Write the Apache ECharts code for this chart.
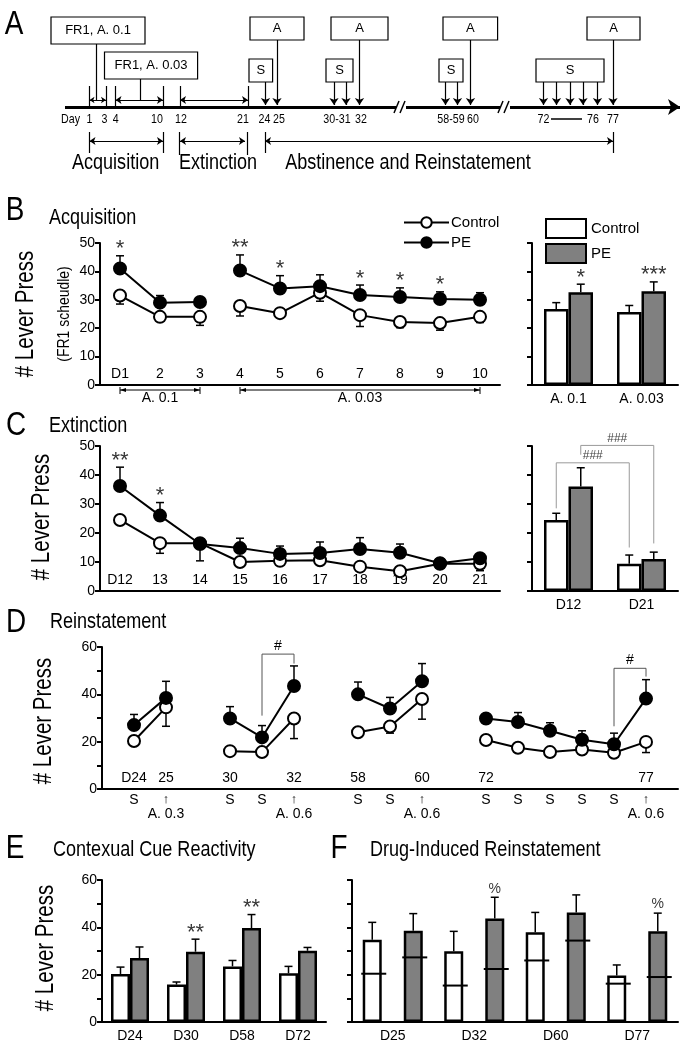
<!DOCTYPE html>
<html>
<head>
<meta charset="utf-8">
<title>Lever press</title>
<script src="https://cdn.jsdelivr.net/npm/echarts@6.0.0/dist/echarts.min.js"></script>
<style>
html, body { margin:0; padding:0; background:#fff; }
#main { width:688px; height:1050px; }
</style>
</head>
<body>
<div id="main"></div>
<script>
// ---------- data ----------
// B  acquisition (FR1), line part + dose means
var daysB = ['D1','2','3','4','5','6','7','8','9','10'];
var ctrlB = [31.5, 24, 24, 27.8, 25.3, 32.5, 24.6, 22.2, 21.8, 24];
var ctrlErrB = [-3, -1.5, -3, -3.5, -1.5, -3, -4, -2, -2.5, -2];
var peB = [41, 29, 29.2, 40.3, 34, 34.8, 31.7, 31, 30.3, 30];
var peErrB = [4.5, 2.5, 0.5, 5.5, 4.5, 4, 3.5, 3.2, 2.5, 2.5];
var sigB = ['*', '', '', '**', '*', '', '*', '*', '*', ''];
var blocksB = [[0, 2, 'A. 0.1'], [3, 9, 'A. 0.03']];
var doseB = ['A. 0.1', 'A. 0.03'];
var ctrlBarB = [26.8, 25.7];
var ctrlBarErrB = [2.2, 2.3];
var peBarB = [32.7, 33];
var peBarErrB = [2.8, 3.3];
var sigBarB = ['*', '***'];

// C  extinction
var daysC = ['D12','13','14','15','16','17','18','19','20','21'];
var ctrlC = [24.5, 16.5, 16.5, 10, 10.4, 10.6, 8.4, 6.8, 9.4, 9.4];
var ctrlErrC = [-1.5, -3.5, -1, -0.8, -0.8, -0.8, -1.2, -0.8, -0.8, -2.4];
var peC = [36.2, 26, 16.2, 14.8, 12.8, 13.1, 14.5, 13.2, 9.6, 11.3];
var peErrC = [6.5, 4.5, -5.8, 3.4, 2.7, 3.8, 3.9, 3, 0.8, 1];
var sigC = ['**', '*', '', '', '', '', '', '', '', ''];
var catBarC = ['D12', 'D21'];
var ctrlBarC = [24.5, 9.4];
var ctrlBarErrC = [2.3, 3];
var peBarC = [36, 11];
var peBarErrC = [6.5, 2.4];
// [from cat, side, to cat, side, top, from bottom, to bottom, label]  side -1 control, 1 PE
var bracketsC = [[0, -1, 1, -1, 44.2, 28.5, 15, '###'], [0, 1, 1, 1, 50.2, 47, 16.4, '###']];

// D  reinstatement, '' / '-' = gap between test blocks
var dayLabD = ['D24','25','','30','','32','','58','','60','','72','','','','','77'];
var cueD = ['S','A. 0.3','','S','S','A. 0.6','','S','S','A. 0.6','','S','S','S','S','S','A. 0.6'];
var ctrlD = [20.3, 34.5, '-', 16, 15.6, 29.8, '-', 24, 26.4, 38, '-', 20.7, 17.4, 15.6, 16.7, 15.3, 19.9];
var ctrlErrD = [-1.5, -8, 0, -0.8, -0.8, -8.5, 0, -0.8, -2.8, -8.5, 0, -1, -0.8, -0.8, -0.8, -0.8, -4.5];
var peD = [27, 38.5, '-', 29.8, 21.8, 43.5, '-', 40, 34, 45.5, '-', 29.8, 28.3, 24.6, 20.8, 18.9, 38.2];
var peErrD = [4.5, 7, 0, 5, 5, 8.5, 0, 5.2, 4.7, 7.5, 0, 0.8, 4, 3.4, 3.8, 4.7, 8];
var bracketsD = [[4, 0, 5, 0, 57, 31, 53, '#'], [15, 0, 16, 0, 51, 26.5, 47.5, '#']];

// E  contextual cue reactivity
var catE = ['D24', 'D30', 'D58', 'D72'];
var ctrlE = [20.3, 15.8, 23.5, 20.6];
var ctrlErrE = [2.9, 1.1, 2.5, 2.9];
var peE = [27, 29.7, 39.7, 30.1];
var peErrE = [4.7, 5.3, 5.7, 1.4];
var sigE = ['', '**', '**', ''];

// F  drug-induced reinstatement (horizontal line = preceding S session)
var catF = ['D25', 'D32', 'D60', 'D77'];
var ctrlF = [34.8, 29.9, 37.9, 19.7];
var ctrlErrF = [7.3, 8.4, 8.4, 4.4];
var peF = [38.6, 43.7, 46.3, 38.3];
var peErrF = [7.2, 9, 7.4, 7.7];
var ctrlBaseF = [20.4, 15.4, 26, 16.2];
var peBaseF = [27.3, 22.4, 34.4, 19];
var sigF = ['', '%', '', '%'];

// ---------- helpers ----------
var FONT = "'Liberation Sans',Arial,sans-serif";
var NARROW = 0.82;   // the figure uses a condensed face; squeeze free text to match
var AX = {color: '#000', width: 2};
var GRAY = '#808080';

function yAx(grid, max, labels, step) {
  return {
    type: 'value', gridIndex: grid, min: 0, max: max, interval: 10,
    axisLine: {show: true, onZero: false, lineStyle: AX},
    axisTick: {show: true, length: 5, lineStyle: AX},
    splitLine: {show: false},
    axisLabel: {show: labels, fontSize: 14, color: '#000', margin: 5,
      formatter: function (v) { return v % step === 0 ? v : ''; }}
  };
}
function xCat(grid, data, inside) {
  return {
    type: 'category', gridIndex: grid, data: data, boundaryGap: true,
    axisLine: {onZero: false, lineStyle: AX}, axisTick: {show: false},
    axisLabel: {inside: inside, interval: 0, fontSize: 14, color: '#000', margin: inside ? 4 : 7}
  };
}
function lineSeries(name, xi, vals, from, to, filled) {
  return {
    type: 'line', name: name, xAxisIndex: xi, yAxisIndex: xi, z: 3,
    data: vals.map(function (v, i) { return [i, (i >= from && i <= to) ? v : '-']; }),
    symbol: 'circle', symbolSize: 12,
    lineStyle: {color: '#000', width: 2},
    itemStyle: {color: filled ? '#000' : '#fff', borderColor: '#000', borderWidth: 2},
    emphasis: {disabled: true}
  };
}
function barSeries(name, xi, vals, color, width, gap) {
  return {
    type: 'bar', name: name, xAxisIndex: xi, yAxisIndex: xi, data: vals,
    barWidth: width, barGap: gap, z: 2,
    itemStyle: {color: color, borderColor: '#000', borderWidth: 2.5},
    emphasis: {disabled: true}
  };
}
function errSeries(xi, vals, errs, offset) {
  var d = [];
  vals.forEach(function (v, i) { if (typeof v === 'number' && errs[i]) d.push([i, v, errs[i]]); });
  return {
    type: 'custom', xAxisIndex: xi, yAxisIndex: xi, data: d, encode: {x: 0, y: 1}, z: 1, silent: true,
    renderItem: function (params, api) {
      var p0 = api.coord([api.value(0), api.value(1)]);
      var p1 = api.coord([api.value(0), api.value(1) + api.value(2)]);
      var x = p0[0] + offset, st = {stroke: '#000', lineWidth: 1.5};
      return {type: 'group', children: [
        {type: 'line', shape: {x1: x, y1: p0[1], x2: x, y2: p1[1]}, style: st},
        {type: 'line', shape: {x1: x - 4, y1: p1[1], x2: x + 4, y2: p1[1]}, style: st}
      ]};
    }
  };
}
function starSeries(xi, vals, errs, sig, offset, size, dy) {
  var d = [];
  sig.forEach(function (s, i) {
    if (s) d.push({value: [i, vals[i] + Math.max(errs[i], 0)], label: {formatter: s}});
  });
  return {
    type: 'scatter', xAxisIndex: xi, yAxisIndex: xi, data: d, symbolSize: 1, z: 5, silent: true,
    itemStyle: {color: 'rgba(0,0,0,0)'},
    label: {show: true, position: 'top', distance: 1, offset: [offset, dy], color: '#000',
      fontSize: size, fontFamily: FONT}
  };
}
function bracketSeries(xi, items, half, color, textColor, size) {
  return {
    type: 'custom', xAxisIndex: xi, yAxisIndex: xi, silent: true, z: 4,
    data: items.map(function (b) { return [b[0], b[4]]; }), encode: {x: 0, y: 1},
    renderItem: function (params, api) {
      var b = items[params.dataIndex];
      var xa = api.coord([b[0], b[4]])[0] + b[1] * half;
      var xb = api.coord([b[2], b[4]])[0] + b[3] * half;
      var yt = api.coord([b[0], b[4]])[1];
      var ya = api.coord([b[0], b[5]])[1], yb = api.coord([b[2], b[6]])[1];
      return {type: 'group', children: [
        {type: 'polyline', shape: {points: [[xa, ya], [xa, yt], [xb, yt], [xb, yb]]},
          style: {stroke: color, lineWidth: 1, fill: null}},
        {type: 'text', x: (xa + xb) / 2, y: yt - 1,
          style: {text: b[7], fill: textColor, fontSize: size, fontFamily: FONT, align: 'center', verticalAlign: 'bottom'}}
      ]};
    }
  };
}
function rangeSeries(xi, blocks) {
  return {
    type: 'custom', xAxisIndex: xi, yAxisIndex: xi, silent: true, clip: false,
    data: blocks.map(function (b) { return [b[0], 0]; }), encode: {x: 0, y: 1},
    renderItem: function (params, api) {
      var b = blocks[params.dataIndex];
      var a = api.coord([b[0], 0]), c = api.coord([b[1], 0]), y = a[1] + 5;
      var st = {stroke: '#000', lineWidth: 1};
      return {type: 'group', children: [
        {type: 'line', shape: {x1: a[0], y1: y, x2: c[0], y2: y}, style: st},
        {type: 'line', shape: {x1: a[0], y1: y - 3, x2: a[0], y2: y + 4}, style: st},
        {type: 'line', shape: {x1: c[0], y1: y - 3, x2: c[0], y2: y + 4}, style: st},
        {type: 'polygon', shape: {points: [[a[0], y], [a[0] + 6, y - 2], [a[0] + 6, y + 2]]}, style: {fill: '#000'}},
        {type: 'polygon', shape: {points: [[c[0], y], [c[0] - 6, y - 2], [c[0] - 6, y + 2]]}, style: {fill: '#000'}},
        {type: 'text', x: (a[0] + c[0]) / 2, y: y + 1,
          style: {text: b[2], fill: '#000', fontSize: 14, fontFamily: FONT, align: 'center', verticalAlign: 'top'}}
      ]};
    }
  };
}
function baseSeries(xi, vals, offset) {
  return {
    type: 'custom', xAxisIndex: xi, yAxisIndex: xi, silent: true, z: 5,
    data: vals.map(function (v, i) { return [i, v]; }), encode: {x: 0, y: 1},
    renderItem: function (params, api) {
      var p = api.coord([api.value(0), api.value(1)]), x = p[0] + offset;
      return {type: 'line', shape: {x1: x - 11, y1: p[1], x2: x + 14, y2: p[1]},
        style: {stroke: '#000', lineWidth: 2}};
    }
  };
}

// ---------- panel A: schematic timeline (grid 0 is 1:1 with the canvas) ----------
function seg(x1, y1, x2, y2, s1, s2, w, sz) {
  var ls = {color: '#000', width: w || 1.2, type: 'solid'};
  return [
    {coord: [x1, y1], symbol: s1 || 'none', symbolSize: sz || 7, lineStyle: ls},
    {coord: [x2, y2], symbol: s2 || 'none', symbolSize: sz || 7, lineStyle: ls}
  ];
}
var segA = [];
segA.push(seg(65, 107, 396, 107, 'none', 'none', 3));
segA.push(seg(406, 107, 500, 107, 'none', 'none', 3));
segA.push(seg(510, 107, 680, 107, 'none', 'arrow', 3, 12));
[[394, 399], [400, 405], [498, 503], [504, 509]].forEach(function (s) {
  segA.push(seg(s[0], 113, s[1], 101, 'none', 'none', 1.5));
});
[89.5, 106, 115.5, 163, 180, 248].forEach(function (x) { segA.push(seg(x, 86, x, 107)); });
segA.push(seg(96, 44, 96, 100));
segA.push(seg(89.5, 100, 106, 100, 'arrow', 'arrow', 1, 5));
segA.push(seg(140, 79, 140, 100));
segA.push(seg(115.5, 100, 163, 100, 'arrow', 'arrow', 1, 6));
segA.push(seg(180, 100, 248, 100, 'arrow', 'arrow', 1, 6));
[265.5, 334, 346, 445.5, 457.5, 543.5, 556.5, 570, 583, 597.5].forEach(function (x) {
  segA.push(seg(x, 82, x, 105, 'none', 'arrow', 1.2, 7));
});
[277, 359.5, 470.5, 613].forEach(function (x) { segA.push(seg(x, 40, x, 105, 'none', 'arrow', 1.2, 7)); });
[[89.5, 153], [163, 153], [179, 155], [247, 155], [265, 153], [613, 153]].forEach(function (t) {
  segA.push(seg(t[0], 132, t[0], t[1]));
});
segA.push(seg(89.5, 141, 163, 141, 'arrow', 'arrow', 1, 6));
segA.push(seg(180, 141, 245, 141, 'arrow', 'arrow', 1, 6));
segA.push(seg(265, 141, 613, 141, 'arrow', 'arrow', 1, 6));
segA.push(seg(551, 119, 582, 119, 'none', 'none', 1.5));

var boxA = [
  ['FR1, A. 0.1', 51, 17, 145, 44], ['FR1, A. 0.03', 104.5, 52, 197.6, 79],
  ['S', 249, 59, 272.6, 82], ['A', 250, 17, 304, 40],
  ['S', 326, 59, 353, 82], ['A', 331, 17, 388, 40],
  ['S', 439, 59, 463, 82], ['A', 443, 17, 497.6, 40],
  ['S', 536, 59, 604, 82], ['A', 587, 17, 640, 40]
].map(function (b) { return [{name: b[0], coord: [b[1], b[2]]}, {coord: [b[3], b[4]]}]; });

var textA = [
  ['Day', 70.5], ['1', 89.5], ['3', 104.5], ['4', 115.6], ['10', 157], ['12', 181], ['21', 243],
  ['24', 264.5], ['25', 279], ['30-31', 337], ['32', 361], ['58-59', 451], ['60', 473],
  ['72', 543.5], ['76', 593], ['77', 613]
];

var graphic = [];
function txt(t, x, y, size, rot, align) {
  graphic.push({type: 'text', x: x, y: y, rotation: rot || 0, scaleX: NARROW, silent: true,
    style: {text: t, fill: '#000', fontSize: size, fontFamily: FONT,
      align: align || 'center', verticalAlign: 'middle'}});
}
textA.forEach(function (t) { txt(t[0], t[1], 119, 13); });
txt('Acquisition', 115.6, 163, 22);
txt('Extinction', 218, 163, 22);
txt('Abstinence and Reinstatement', 408, 163, 22);
// panel letters and titles
[['A', 14, 25], ['B', 15, 211], ['C', 16, 426], ['D', 16, 623], ['E', 15, 849], ['F', 339, 849]]
  .forEach(function (p) { txt(p[0], p[1], p[2], 34); });
txt('Acquisition', 49, 218, 22, 0, 'left');
txt('Extinction', 49, 426, 22, 0, 'left');
txt('Reinstatement', 50, 622, 22, 0, 'left');
txt('Contexual Cue Reactivity', 53, 850, 22, 0, 'left');
txt('Drug-Induced Reinstatement', 370, 850, 22, 0, 'left');
// y axis names
txt('# Lever Press', 26, 314, 25, Math.PI / 2);
txt('(FR1 scheudle)', 64, 314, 17, Math.PI / 2);
txt('# Lever Press', 42, 517, 25, Math.PI / 2);
txt('# Lever Press', 44, 721, 25, Math.PI / 2);
txt('# Lever Press', 46, 948, 25, Math.PI / 2);

// ---------- option ----------
var option = {
  animation: false,
  backgroundColor: '#fff',
  textStyle: {fontFamily: FONT},
  graphic: graphic,
  legend: [
    {data: ['Control', 'PE'], left: 398, top: 210, orient: 'vertical', itemWidth: 45, itemHeight: 13,
      itemGap: 5, selectedMode: false, textStyle: {fontSize: 15, color: '#000', padding: [0, 0, 0, -3]}},
    {data: ['Control (bar)', 'PE (bar)'], left: 540, top: 213, orient: 'vertical', itemWidth: 40, itemHeight: 19,
      itemGap: 4, icon: 'rect', selectedMode: false, textStyle: {fontSize: 15, color: '#000'},
      formatter: function (n) { return n.replace(' (bar)', ''); }}
  ],
  grid: [
    {left: 0, top: 0, width: 688, height: 180},
    {left: 100, top: 243, width: 400, height: 142},
    {left: 532, top: 243, width: 146, height: 142},
    {left: 100, top: 446, width: 400, height: 145},
    {left: 532, top: 446, width: 146, height: 145},
    {left: 102, top: 647, width: 576, height: 142},
    {left: 102, top: 880, width: 224, height: 142},
    {left: 352, top: 880, width: 326, height: 142}
  ],
  xAxis: [
    {type: 'value', gridIndex: 0, min: 0, max: 688, show: false},
    xCat(1, daysB, true),
    xCat(2, doseB, false),
    xCat(3, daysC, true),
    xCat(4, catBarC, false),
    {type: 'value', gridIndex: 5, min: -1, max: 17, interval: 1,
      axisLine: {onZero: false, lineStyle: AX}, axisTick: {show: false}, splitLine: {show: false},
      axisLabel: {inside: true, fontSize: 14, color: '#000', margin: 4,
        formatter: function (v) { return dayLabD[v] || ''; }}},
    {type: 'value', gridIndex: 5, min: -1, max: 17, interval: 1, position: 'bottom',
      axisLine: {show: false, onZero: false}, axisTick: {show: false}, splitLine: {show: false},
      axisLabel: {margin: 4, color: '#000',
        formatter: function (v) {
          var c = cueD[v];
          if (!c) return '';
          return c === 'S' ? '{s|S}' : '{ar|\u2191}\n{d|' + c + '}';
        },
        rich: {s: {fontSize: 14, lineHeight: 14}, ar: {fontSize: 13, lineHeight: 13},
          d: {fontSize: 14, lineHeight: 16}}}},
    xCat(6, catE, false),
    xCat(7, catF, false)
  ],
  yAxis: [
    {type: 'value', gridIndex: 0, min: 0, max: 180, inverse: true, show: false},
    yAx(1, 50, true, 10),
    yAx(2, 50, false, 10),
    yAx(3, 50, true, 10),
    yAx(4, 50, false, 10),
    yAx(5, 60, true, 20),
    yAx(6, 60, true, 20),
    yAx(7, 60, false, 20)
  ],
  series: [
    // A
    {type: 'scatter', xAxisIndex: 0, yAxisIndex: 0, data: [[0, 0]], symbolSize: 0, silent: true,
      markLine: {silent: true, label: {show: false}, data: segA},
      markArea: {silent: true, data: boxA,
        itemStyle: {color: '#fff', borderColor: '#000', borderWidth: 1.2},
        label: {show: true, position: 'inside', color: '#000', fontSize: 13, fontFamily: FONT}}},
    // B line
    errSeries(1, ctrlB, ctrlErrB, 0),
    errSeries(1, peB, peErrB, 0),
    lineSeries('Control', 1, ctrlB, blocksB[0][0], blocksB[0][1], false),
    lineSeries('Control', 1, ctrlB, blocksB[1][0], blocksB[1][1], false),
    lineSeries('PE', 1, peB, blocksB[0][0], blocksB[0][1], true),
    lineSeries('PE', 1, peB, blocksB[1][0], blocksB[1][1], true),
    starSeries(1, peB, peErrB, sigB, 0, 22, 6),
    rangeSeries(1, blocksB),
    // B bars
    barSeries('Control (bar)', 2, ctrlBarB, '#fff', 24.5, '0%'),
    barSeries('PE (bar)', 2, peBarB, GRAY, 24.5, '0%'),
    errSeries(2, ctrlBarB, ctrlBarErrB, -12.25),
    errSeries(2, peBarB, peBarErrB, 12.25),
    starSeries(2, peBarB, peBarErrB, sigBarB, 12.25, 22, 6),
    // C line
    errSeries(3, ctrlC, ctrlErrC, 0),
    errSeries(3, peC, peErrC, 0),
    lineSeries('Control', 3, ctrlC, 0, 9, false),
    lineSeries('PE', 3, peC, 0, 9, true),
    starSeries(3, peC, peErrC, sigC, 0, 22, 6),
    // C bars
    barSeries('Control (bar)', 4, ctrlBarC, '#fff', 24.5, '0%'),
    barSeries('PE (bar)', 4, peBarC, GRAY, 24.5, '0%'),
    errSeries(4, ctrlBarC, ctrlBarErrC, -12.25),
    errSeries(4, peBarC, peBarErrC, 12.25),
    bracketSeries(4, bracketsC, 12.25, '#999', '#444', 12),
    // D
    errSeries(5, ctrlD, ctrlErrD, 0),
    errSeries(5, peD, peErrD, 0),
    lineSeries('Control', 5, ctrlD, 0, 16, false),
    lineSeries('PE', 5, peD, 0, 16, true),
    bracketSeries(5, bracketsD, 0, '#555', '#000', 14),
    // E
    barSeries('Control (bar)', 7, ctrlE, '#fff', 19, '0%'),
    barSeries('PE (bar)', 7, peE, GRAY, 19, '0%'),
    errSeries(7, ctrlE, ctrlErrE, -9.5),
    errSeries(7, peE, peErrE, 9.5),
    starSeries(7, peE, peErrE, sigE, 9.5, 22, 6),
    // F
    barSeries('Control (bar)', 8, ctrlF, '#fff', 19, '116%'),
    barSeries('PE (bar)', 8, peF, GRAY, 19, '116%'),
    errSeries(8, ctrlF, ctrlErrF, -20.5),
    errSeries(8, peF, peErrF, 20.5),
    baseSeries(8, ctrlBaseF, -20.5),
    baseSeries(8, peBaseF, 20.5),
    starSeries(8, peF, peErrF, sigF, 20.5, 14, 0)
  ]
};

// E and F use x axes 7/8 but y axes 6/7
option.series.forEach(function (s) {
  if (s.xAxisIndex === 7) s.yAxisIndex = 6;
  if (s.xAxisIndex === 8) s.yAxisIndex = 7;
});

var chart = echarts.init(document.getElementById('main'), null, {renderer: 'canvas'});
chart.setOption(option);
</script>
</body>
</html>
